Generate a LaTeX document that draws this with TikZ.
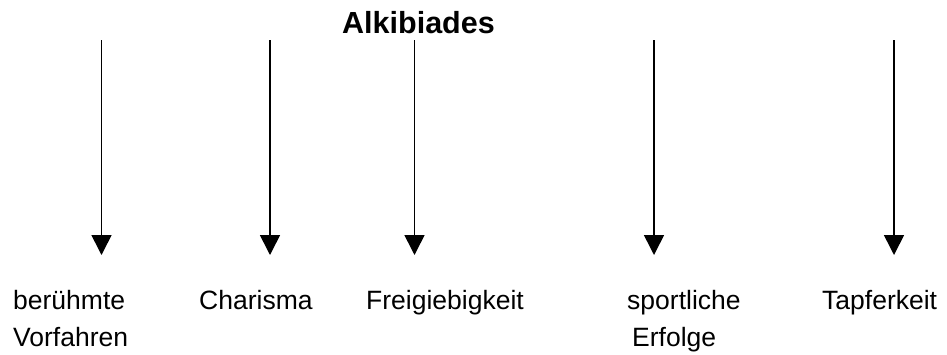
\documentclass[tikz,border=0pt]{standalone}
\usepackage{fontspec}
\setmainfont{Liberation Sans}
\usepackage{tikz}
\usetikzlibrary{arrows.meta,positioning}
\tikzset{
  pfeil/.style = {-{Triangle[width=20pt,length=20pt]}, line width=1.6pt},
  label/.style = {inner sep=0pt, anchor=base west, align=left, font=\fontsize{26.5}{37}\selectfont},
  titel/.style = {inner sep=0pt, anchor=base west, font=\fontsize{30.5}{36}\selectfont\bfseries},
}

\begin{document}
\begin{tikzpicture}[x=1pt, y=-1pt]
  \useasboundingbox (0,0) rectangle (947,354);
  \node[titel] (title) at (342,33) {Alkibiades};
  % Eigenschaften (zweizeilige: Basislinie der letzten Zeile)
  \node[label] (vorfahren) at (13,346) {berühmte\\Vorfahren};
  \node[label] (charisma) at (199,309) {Charisma};
  \node[label] (freigiebig) at (366,309) {Freigiebigkeit};
  \node[label] (sport) at (627,346) {sportliche\\\hspace*{5pt}Erfolge};
  \node[label] (tapfer) at (822,309) {Tapferkeit};
  % Pfeile
  \foreach \n/\x in {1/101.5, 2/270, 3/414.5, 4/654, 5/894} {
    \coordinate (top\n) at (\x,40);
    \coordinate (end\n) at (\x,255);
    \draw[pfeil] (top\n) -- (end\n);
  }
\end{tikzpicture}
\end{document}
